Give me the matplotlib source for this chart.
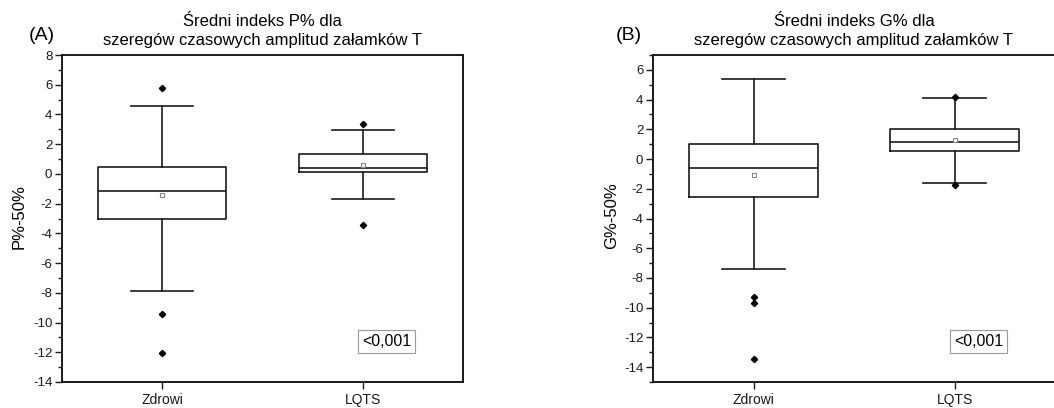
import numpy as np
import matplotlib.pyplot as plt

plt.rcParams['font.family'] = ['Liberation Sans', 'DejaVu Sans']
plt.rcParams['axes.unicode_minus'] = False

# dane
groups = ["Zdrowi", "LQTS"]

# (A) indeks P%
p_whislo = [-7.9, -1.7]
p_q1 = [-3.0, 0.1]
p_med = [-1.15, 0.43]
p_q3 = [0.45, 1.33]
p_whishi = [4.55, 2.95]
p_mean = [-1.45, 0.62]
p_fliers = [[5.75, -9.45, -12.05], [3.35, -3.45]]

# (B) indeks G%
g_whislo = [-7.4, -1.63]
g_q1 = [-2.55, 0.54]
g_med = [-0.58, 1.18]
g_q3 = [1.0, 1.99]
g_whishi = [5.38, 4.14]
g_mean = [-1.04, 1.31]
g_fliers = [[-9.3, -9.7, -13.42], [4.2, -1.72]]

p_value = "<0,001"


def make_stats(whislo, q1, med, q3, whishi, mean, fliers):
    stats = []
    for i in range(len(groups)):
        stats.append(dict(whislo=whislo[i], q1=q1[i], med=med[i], q3=q3[i],
                          whishi=whishi[i], mean=mean[i], fliers=fliers[i],
                          label=groups[i]))
    return stats


def draw_panel(ax, stats, ylim, yticks, title):
    lc = '#1a1a1a'
    ax.bxp(stats, positions=[1, 2], widths=0.64, showmeans=True,
           showfliers=True, patch_artist=False,
           boxprops=dict(color=lc, linewidth=1.2),
           medianprops=dict(color=lc, linewidth=1.2),
           whiskerprops=dict(color=lc, linewidth=1.2),
           capprops=dict(color=lc, linewidth=1.2),
           capwidths=0.31,
           meanprops=dict(marker='s', markersize=3.5, markerfacecolor='white',
                          markeredgecolor='#888888', markeredgewidth=0.8),
           flierprops=dict(marker='D', markersize=3.2, markerfacecolor='black',
                           markeredgecolor='black'))
    ax.set_xlim(0.5, 2.5)
    ax.set_ylim(*ylim)
    ax.set_yticks(yticks)
    ax.set_yticks(np.arange(ylim[0], ylim[1] + 0.1, 1), minor=True)
    ax.set_xticks([1, 2], groups)
    ax.tick_params(axis='y', which='major', direction='out', length=5,
                   width=1, labelsize=9.5, pad=2, colors='#1a1a1a')
    ax.tick_params(axis='y', which='minor', direction='out', length=3,
                   width=1, colors='#1a1a1a')
    ax.tick_params(axis='x', direction='out', length=5, width=1,
                   labelsize=10, pad=3, colors='#1a1a1a')
    for s in ax.spines.values():
        s.set_linewidth(1.4)
        s.set_color('#1a1a1a')
    ax.set_title(title, fontsize=12, pad=7, linespacing=1.35)
    ax.text(0.81, 0.125, p_value, transform=ax.transAxes, fontsize=11.5,
            ha='center', va='center',
            bbox=dict(boxstyle='square,pad=0.25', facecolor='white',
                      edgecolor='#999999', linewidth=0.8))


fig = plt.figure(figsize=(10.54, 4.08), dpi=100)
axA = fig.add_axes([62 / 1054, 26 / 408, 401 / 1054, 327 / 408])
axB = fig.add_axes([653 / 1054, 26 / 408, 402 / 1054, 327 / 408])

draw_panel(axA, make_stats(p_whislo, p_q1, p_med, p_q3, p_whishi, p_mean, p_fliers),
           (-14, 8), np.arange(-14, 9, 2),
           "Średni indeks P% dla\nszeregów czasowych amplitud załamków T")
draw_panel(axB, make_stats(g_whislo, g_q1, g_med, g_q3, g_whishi, g_mean, g_fliers),
           (-15, 7), np.arange(-14, 7, 2),
           "Średni indeks G% dla\nszeregów czasowych amplitud załamków T")

fig.text(19 / 1054, 1 - 217 / 408, "P%-50%", rotation=90, fontsize=12,
         ha='center', va='center')
fig.text(612 / 1054, 1 - 216 / 408, "G%-50%", rotation=90, fontsize=12,
         ha='center', va='center')
fig.text(42 / 1054, 1 - 36 / 408, "(A)", fontsize=14, ha='center', va='center')
fig.text(629 / 1054, 1 - 36 / 408, "(B)", fontsize=14, ha='center', va='center')

fig.savefig("out.png", dpi=100, facecolor='white')
